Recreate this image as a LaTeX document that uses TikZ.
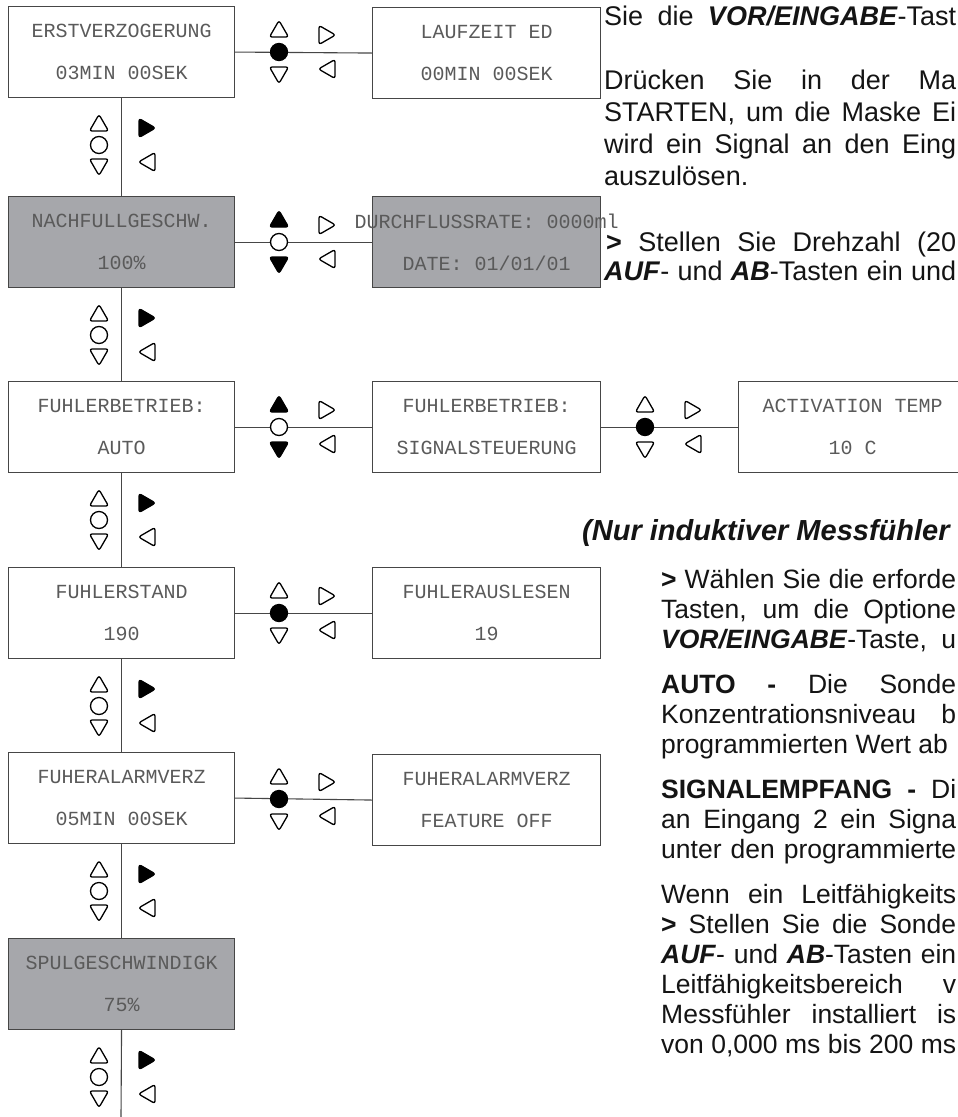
\documentclass[tikz,border=0pt]{standalone}
\usepackage{fontspec}
\setmainfont{Liberation Sans}
\newfontfamily\lcdfont{Liberation Mono}
\definecolor{boxgray}{RGB}{166,167,171}
\definecolor{lcdtext}{RGB}{90,90,90}
\definecolor{edgec}{RGB}{70,70,70}
\definecolor{bodytext}{RGB}{20,20,20}
\newcommand\symtri[4]{\draw[symb,#4,shift={(#1,#2)},rotate=#3,xshift=-2.5pt] (0:11pt) -- (120:11pt) -- (240:11pt) -- cycle;}
\newcommand\hsyms[4]{%
  \symtri{#1}{#2-23}{90}{fill=#4}
  \symtri{#1}{#2+23}{-90}{fill=#4}
  \draw[symb,fill=#3] (#1,#2) circle[radius=8.5pt];
  \symtri{#1+48}{#2-17}{0}{fill=white}
  \symtri{#1+48}{#2+17}{180}{fill=white}}
\newcommand\vsyms[1]{%
  \symtri{99}{#1+26}{90}{fill=white}
  \draw[symb,fill=white] (99,#1+48) circle[radius=8.5pt];
  \symtri{99}{#1+70}{-90}{fill=white}
  \symtri{147}{#1+31}{0}{fill=black}
  \symtri{147}{#1+65}{180}{fill=white}}
\newcommand\lcdlines[2]{\makebox[0pt]{#1}\\\makebox[0pt]{#2}}
\newcommand\topline[1]{\makebox[352pt][s]{#1}}
\newcommand\botline[1]{\makebox[295pt][s]{#1}}
\begin{document}
\begin{tikzpicture}[x=1pt,y=-1pt,
  lcd/.style={draw=edgec, line width=1.1pt, minimum width=226pt, minimum height=91pt,
    inner sep=0pt, align=center, text=lcdtext, anchor=north west,
    font=\lcdfont\fontsize{20}{42}\selectfont},
  lcdwide/.style={lcd, minimum width=228pt},
  grayfill/.style={fill=boxgray},
  conn/.style={draw=edgec, line width=1.1pt},
  symb/.style={draw=black, line width=1.3pt, rounded corners=2.5pt, line join=round},
  body/.style={anchor=base west, inner sep=0pt, text=bodytext,
    font=\fontsize{26.5}{30}\selectfont},
  bodytop/.style={body, font=\fontsize{27}{32}\selectfont},
  heading/.style={body, font=\fontsize{29}{32}\selectfont\bfseries\itshape},
]
\useasboundingbox (0,0) rectangle (958,1117);
\clip (0,0) rectangle (958,1117);

% left column
\node[lcd] (b1) at (8,6) {\lcdlines{ERSTVERZOGERUNG}{03MIN 00SEK}};
\node[lcd,grayfill] (b2) at (8,196) {\lcdlines{NACHFULLGESCHW.}{100\%}};
\node[lcd] (b3) at (8,381) {\lcdlines{FUHLERBETRIEB:}{AUTO}};
\node[lcd] (b4) at (8,567) {\lcdlines{FUHLERSTAND}{190}};
\node[lcd] (b5) at (8,752) {\lcdlines{FUHERALARMVERZ}{05MIN 00SEK}};
\node[lcd,grayfill] (b6) at (8,938) {\lcdlines{SPULGESCHWINDIGK}{75\%}};

% middle column
\node[lcdwide] (m1) at (372,7) {\lcdlines{LAUFZEIT ED}{00MIN 00SEK}};
\node[lcdwide,grayfill] (m2) at (372,196) {\lcdlines{DURCHFLUSSRATE: 0000ml}{DATE: 01/01/01}};
\node[lcdwide] (m3) at (372,381) {\lcdlines{FUHLERBETRIEB:}{SIGNALSTEUERUNG}};
\node[lcdwide] (m4) at (372,567) {\lcdlines{FUHLERAUSLESEN}{19}};
\node[lcdwide] (m5) at (372,754) {\lcdlines{FUHERALARMVERZ}{FEATURE OFF}};
\node[lcdwide] (a3) at (738,381) {\lcdlines{ACTIVATION TEMP}{10 C}};

% vertical connectors
\draw[conn] (b1.south) -- (b2.north);
\draw[conn] (b2.south) -- (b3.north);
\draw[conn] (b3.south) -- (b4.north);
\draw[conn] (b4.south) -- (b5.north);
\draw[conn] (b5.south) -- (b6.north);
\coordinate (bend) at (121,1117);
\draw[conn] (b6.south) -- (bend);

% horizontal connectors
\draw[conn] (b1.east) -- (m1.west);
\draw[conn] (b2.east) -- (m2.west);
\draw[conn] (b3.east) -- (m3.west);
\draw[conn] (m3.east) -- (a3.west);
\draw[conn] (b4.east) -- (m4.west);
\draw[conn] (b5.east) -- (m5.west);

% symbols on horizontal connectors
\hsyms{279}{52}{black}{white}
\hsyms{279}{242}{white}{black}
\hsyms{279}{427}{white}{black}
\hsyms{645}{427}{black}{white}
\hsyms{279}{613}{black}{white}
\hsyms{279}{799}{black}{white}

% symbols on vertical connectors
\vsyms{97}
\vsyms{287}
\vsyms{472}
\vsyms{658}
\vsyms{843}
\vsyms{1029}

% right-hand text, top block
\node[bodytop] (t1) at (604,25) {\topline{Sie die \textbf{\textit{VOR/EINGABE}}-Tast}};
\node[bodytop] (t2) at (604,89) {\topline{Drücken Sie in der Ma}};
\node[bodytop] (t3) at (604,121) {\topline{STARTEN, um die Maske Ei}};
\node[bodytop] (t4) at (604,153) {\topline{wird ein Signal an den Eing}};
\node[bodytop] (t5) at (604,185) {auszulösen.};
\node[bodytop] (t6) at (606,251) {\makebox[350pt][s]{\textbf{>} Stellen Sie Drehzahl (20}};
\node[bodytop] (t7) at (604,280) {\topline{\textbf{\textit{AUF}}- und \textbf{\textit{AB}}-Tasten ein und}};

% heading
\node[heading] (h1) at (582,540) {(Nur induktiver Messfühler};

% right-hand text, bottom block
\node[body] (u1) at (661,588) {\botline{\textbf{>} Wählen Sie die erforde}};
\node[body] (u2) at (661,618) {\botline{Tasten, um die Optione}};
\node[body] (u3) at (661,648) {\botline{\textbf{\textit{VOR/EINGABE}}-Taste, u}};
\node[body] (u4) at (661,693) {\botline{\textbf{AUTO -} Die Sonde}};
\node[body] (u5) at (661,723) {\botline{Konzentrationsniveau b}};
\node[body] (u6) at (661,753) {programmierten Wert ab};
\node[body] (u7) at (661,798) {\botline{\textbf{SIGNALEMPFANG -} Di}};
\node[body] (u8) at (661,828) {\botline{an Eingang 2 ein Signa}};
\node[body] (u9) at (661,858) {\botline{unter den programmierte}};
\node[body] (u10) at (661,903) {\botline{Wenn ein Leitfähigkeits}};
\node[body] (u11) at (661,933) {\botline{\textbf{>} Stellen Sie die Sonde}};
\node[body] (u12) at (661,963) {\botline{\textbf{\textit{AUF}}- und \textbf{\textit{AB}}-Tasten ein}};
\node[body] (u13) at (661,993) {\botline{Leitfähigkeitsbereich v}};
\node[body] (u14) at (661,1023) {\botline{Messfühler installiert is}};
\node[body] (u15) at (661,1053) {\botline{von 0,000 ms bis 200 ms}};
\end{tikzpicture}
\end{document}
